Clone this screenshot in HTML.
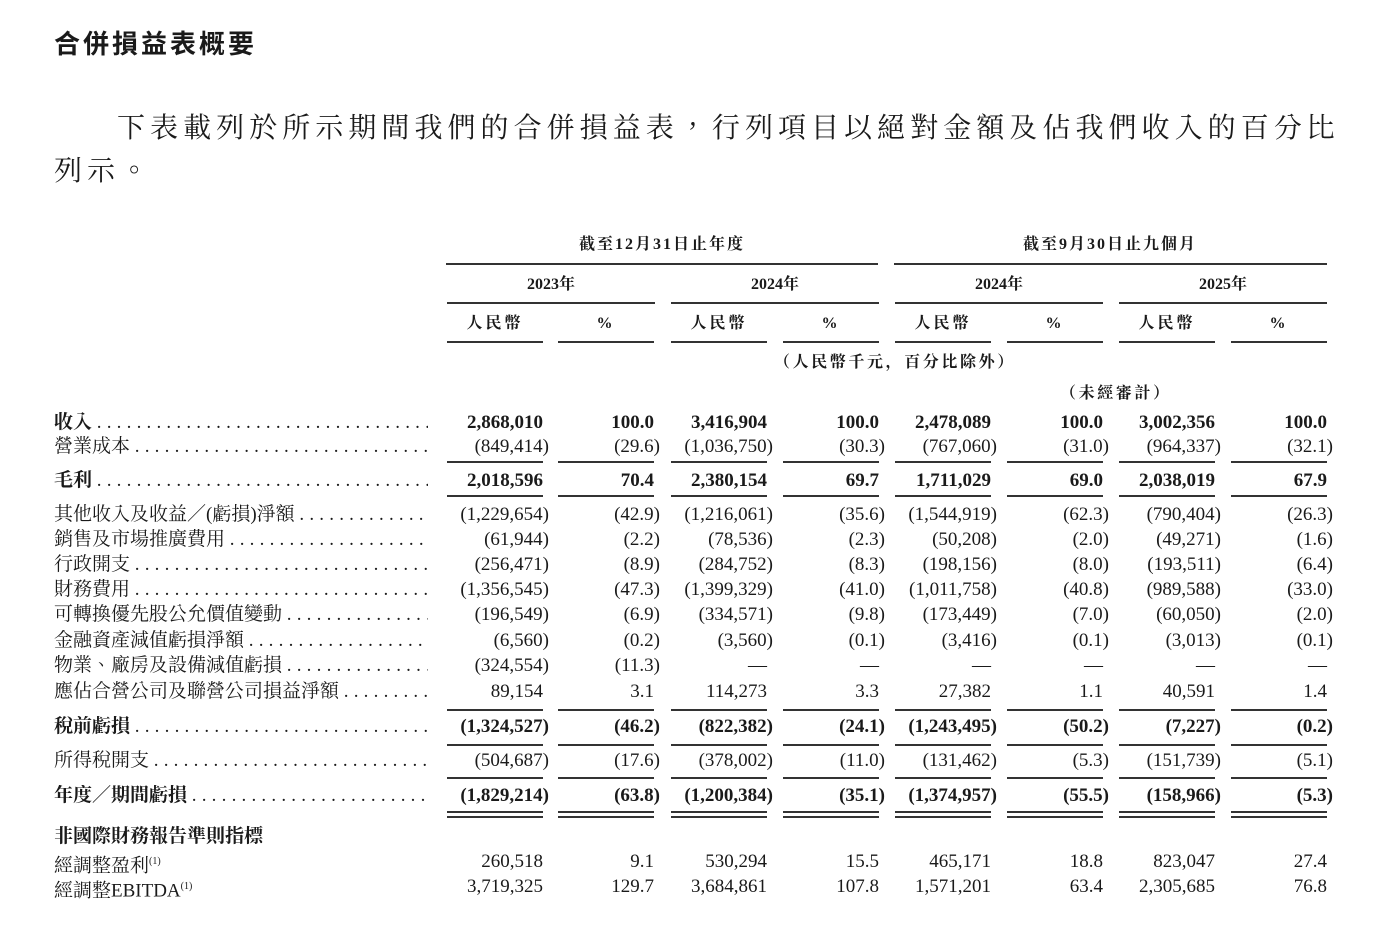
<!DOCTYPE html>
<html><head><meta charset="utf-8">
<style>
body{margin:0;background:#fff;}
#p{position:relative;width:1388px;height:926px;overflow:hidden;font-family:"Liberation Serif","Noto Serif CJK TC","Noto Serif CJK SC",serif;color:#1a1a1a;}
.a{position:absolute;white-space:nowrap;}
.t{font-family:"Liberation Serif","Noto Serif CJK SC",serif;font-size:19px;line-height:22px;}
.b{font-weight:bold;}
.ln{position:absolute;background:#333;height:2px;}
.lab{position:absolute;left:54px;width:374px;overflow:hidden;white-space:nowrap;font-size:19px;line-height:22px;}
.lab span.d{letter-spacing:5.2px;}
</style></head><body><div id="p">
<div class="a b" style="left:54px;top:24px;font-size:26px;letter-spacing:3px;font-family:'Noto Sans CJK SC',sans-serif;">合併損益表概要</div>
<div class="a" style="left:117px;top:106px;font-size:28px;letter-spacing:5.05px;">下表載列於所示期間我們的合併損益表，行列項目以絕對金額及佔我們收入的百分比</div>
<div class="a" style="left:54px;top:149px;font-size:28px;letter-spacing:5.05px;">列示。</div>
<div class="a t b" style="left:446px;width:432px;text-align:center;top:234px;font-size:16px;letter-spacing:2px;">截至12月31日止年度</div>
<div class="a t b" style="left:894px;width:432px;text-align:center;top:234px;font-size:16px;letter-spacing:2px;">截至9月30日止九個月</div>
<div class="ln" style="left:446px;width:432px;top:263px;"></div>
<div class="ln" style="left:894px;width:433px;top:263px;"></div>
<div id="g"></div>
</div>
<script>
var p=document.getElementById('p');
function add(h){p.insertAdjacentHTML('beforeend',h);}
var L=[447,558,671,783,895,1007,1119,1231],W=96;
var yrs=['2023年','2024年','2024年','2025年'];
for(var i=0;i<4;i++){var x=L[i*2];
add('<div class="a t b" style="left:'+x+'px;width:208px;text-align:center;top:274px;font-size:16px;">'+yrs[i]+'</div>');
add('<div class="ln" style="left:'+x+'px;width:208px;top:302px;"></div>');}
for(var i=0;i<8;i++){add('<div class="a t b" style="left:'+L[i]+'px;width:'+W+'px;text-align:center;top:313px;font-size:16px;letter-spacing:3px;">'+(i%2?'%':'人民幣')+'</div>');
add('<div class="ln" style="left:'+L[i]+'px;width:'+W+'px;top:341px;"></div>');}
add('<div class="a t b" style="left:774px;top:352px;font-size:16px;letter-spacing:2.6px;">（人民幣千元，百分比除外）</div>');
add('<div class="a t b" style="left:1060px;top:383px;font-size:16px;letter-spacing:2.6px;">（未經審計）</div>');
var rows=[
[412,'收入',1,['2,868,010','100.0','3,416,904','100.0','2,478,089','100.0','3,002,356','100.0']],
[436,'營業成本',0,['(849,414)','(29.6)','(1,036,750)','(30.3)','(767,060)','(31.0)','(964,337)','(32.1)'],461],
[470,'毛利',1,['2,018,596','70.4','2,380,154','69.7','1,711,029','69.0','2,038,019','67.9'],495],
[504,'其他收入及收益／(虧損)淨額',0,['(1,229,654)','(42.9)','(1,216,061)','(35.6)','(1,544,919)','(62.3)','(790,404)','(26.3)']],
[529,'銷售及市場推廣費用',0,['(61,944)','(2.2)','(78,536)','(2.3)','(50,208)','(2.0)','(49,271)','(1.6)']],
[554,'行政開支',0,['(256,471)','(8.9)','(284,752)','(8.3)','(198,156)','(8.0)','(193,511)','(6.4)']],
[579,'財務費用',0,['(1,356,545)','(47.3)','(1,399,329)','(41.0)','(1,011,758)','(40.8)','(989,588)','(33.0)']],
[604,'可轉換優先股公允價值變動',0,['(196,549)','(6.9)','(334,571)','(9.8)','(173,449)','(7.0)','(60,050)','(2.0)']],
[630,'金融資產減值虧損淨額',0,['(6,560)','(0.2)','(3,560)','(0.1)','(3,416)','(0.1)','(3,013)','(0.1)']],
[655,'物業、廠房及設備減值虧損',0,['(324,554)','(11.3)','—','—','—','—','—','—']],
[681,'應佔合營公司及聯營公司損益淨額',0,['89,154','3.1','114,273','3.3','27,382','1.1','40,591','1.4'],709],
[716,'稅前虧損',1,['(1,324,527)','(46.2)','(822,382)','(24.1)','(1,243,495)','(50.2)','(7,227)','(0.2)'],744],
[750,'所得稅開支',0,['(504,687)','(17.6)','(378,002)','(11.0)','(131,462)','(5.3)','(151,739)','(5.1)'],777],
[785,'年度／期間虧損',1,['(1,829,214)','(63.8)','(1,200,384)','(35.1)','(1,374,957)','(55.5)','(158,966)','(5.3)'],811]
];
var dots='';for(var k=0;k<80;k++)dots+='.';
rows.forEach(function(r){
add('<div class="lab'+(r[2]?' b':'')+'" style="top:'+r[0]+'px;">'+r[1]+' <span class="d" style="font-weight:normal">'+dots+'</span></div>');
for(var i=0;i<8;i++){var v=r[3][i],R=L[i]+W,par=v.charAt(v.length-1)==')';
var dash=v=='—';
add('<div class="a t'+(r[2]?' b':'')+'" style="top:'+r[0]+'px;left:'+(dash?R-20:R-200+(par?6:0))+'px;width:'+(dash?20:200)+'px;text-align:right;">'+v+'</div>');}
if(r[4])for(var i=0;i<8;i++){add('<div class="ln" style="left:'+L[i]+'px;width:'+W+'px;top:'+r[4]+'px;"></div>');
if(r[4]==811)add('<div class="ln" style="left:'+L[i]+'px;width:'+W+'px;top:816px;"></div>');}
});
add('<div class="a t b" style="left:54px;top:826px;">非國際財務報告準則指標</div>');
var ex=[[851,'經調整盈利',['260,518','9.1','530,294','15.5','465,171','18.8','823,047','27.4']],
[876,'經調整EBITDA',['3,719,325','129.7','3,684,861','107.8','1,571,201','63.4','2,305,685','76.8']]];
ex.forEach(function(r){
add('<div class="a t" style="left:54px;top:'+r[0]+'px;">'+r[1]+'<sup style="font-size:10px;">(1)</sup></div>');
for(var i=0;i<8;i++){var R=L[i]+W;add('<div class="a t" style="top:'+r[0]+'px;left:'+(R-200)+'px;width:200px;text-align:right;">'+r[2][i]+'</div>');}
});
</script>
</body></html>
